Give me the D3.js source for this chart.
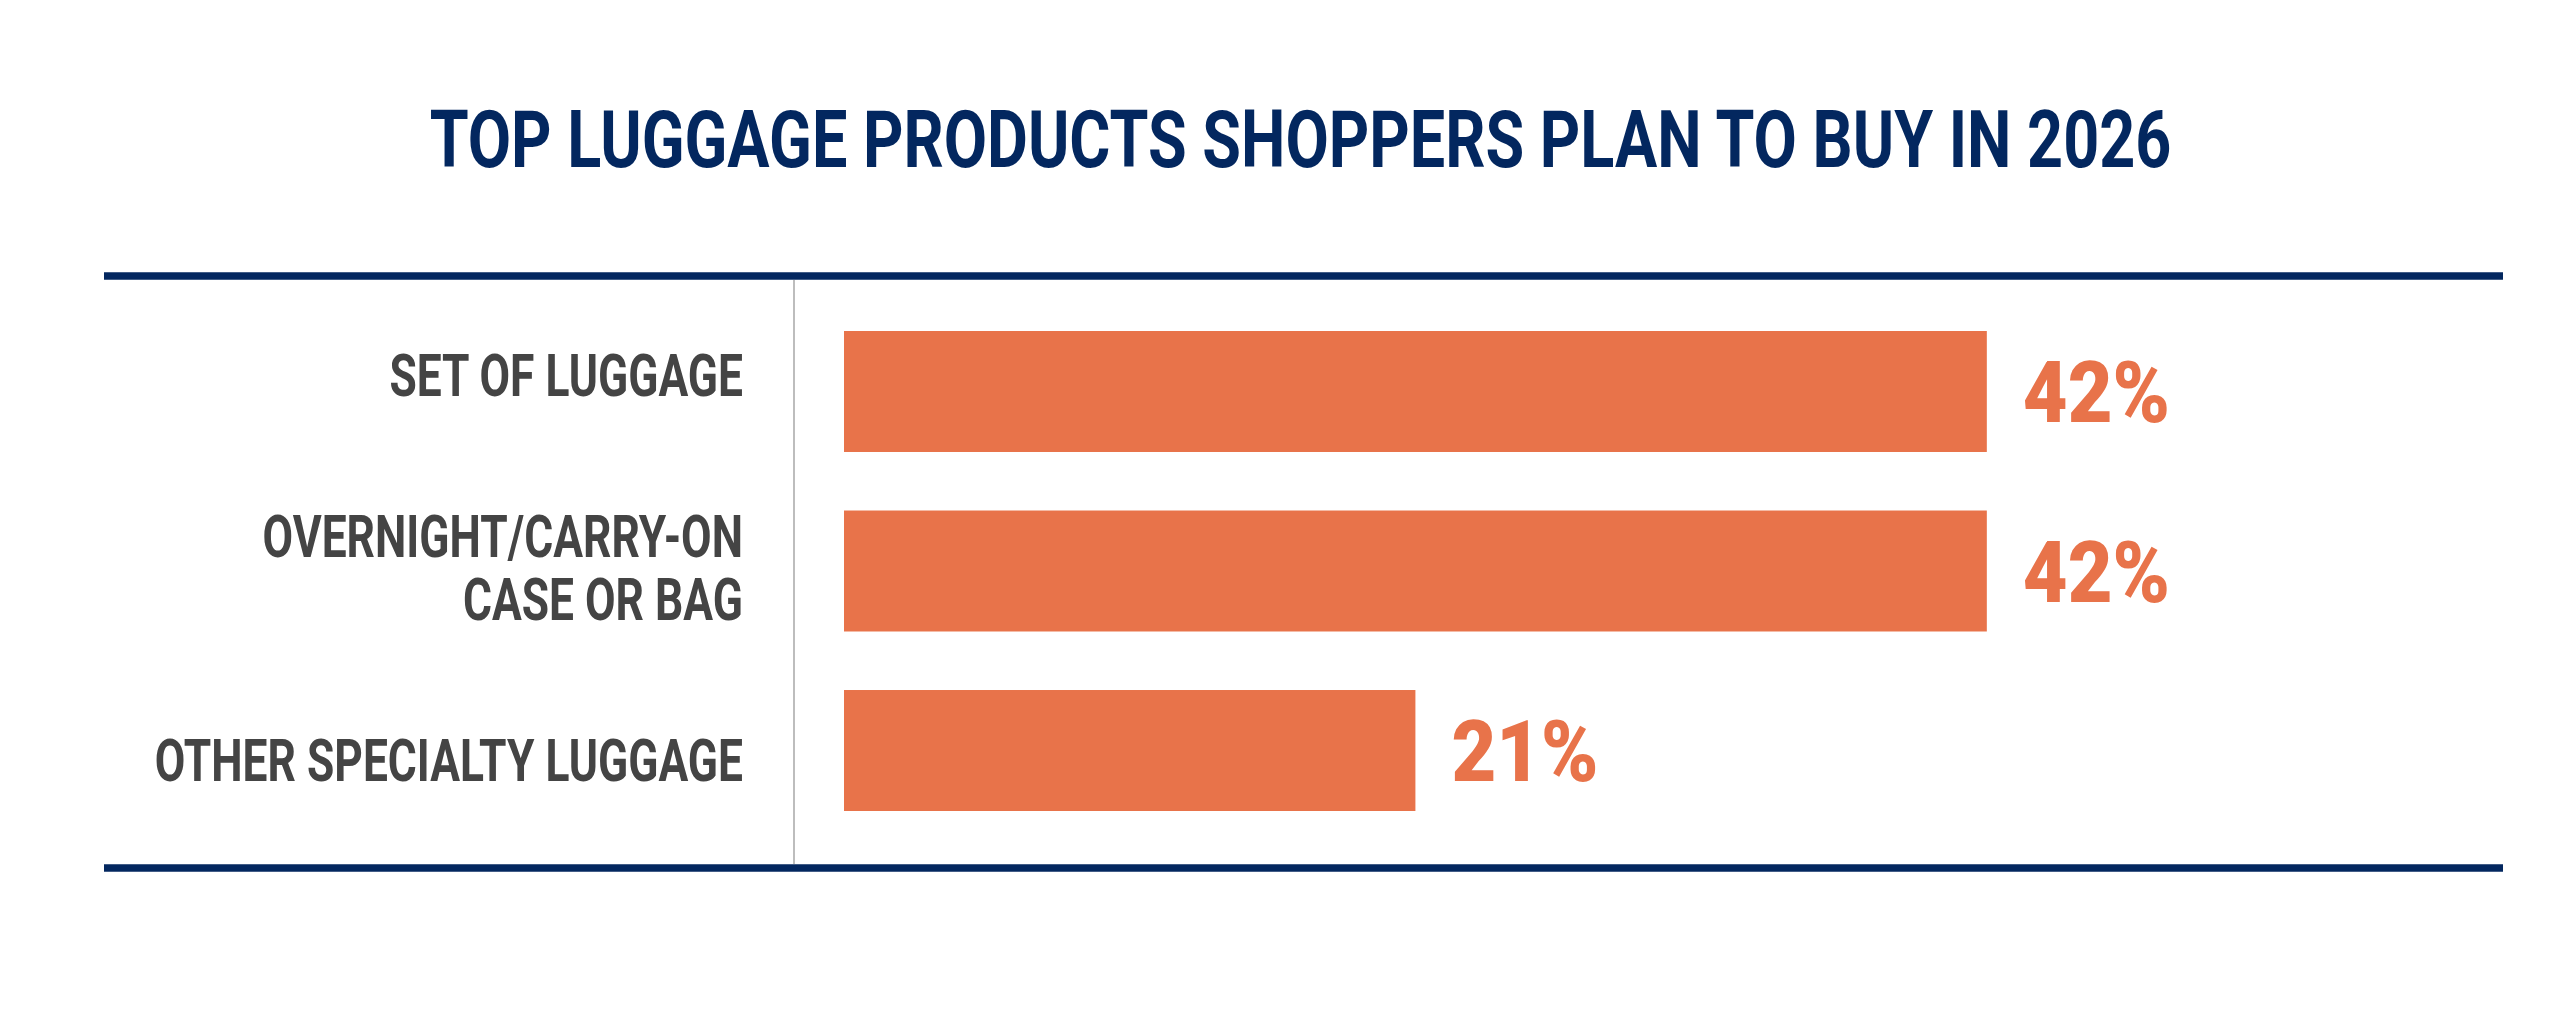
<!DOCTYPE html>
<html>
<head>
<meta charset="utf-8">
<script src="https://cdn.jsdelivr.net/npm/d3@7"></script>
<style>
    html, body { margin: 0; padding: 0; background: #ffffff; }
    svg { display: block; }
</style>
</head>
<body>
<div id="chart"></div>
<script>
// data
var title = 'TOP LUGGAGE PRODUCTS SHOPPERS PLAN TO BUY IN 2026';
var categories = ['SET OF LUGGAGE', 'OVERNIGHT/CARRY-ON\nCASE OR BAG', 'OTHER SPECIALTY LUGGAGE'];
var values = [42, 42, 21];
var valueLabels = ['42%', '42%', '21%'];

var width = 2560, height = 1009;
var navy = '#03275f', orange = '#e8734a', grey = '#444444';

var svg = d3.select('#chart')
    .append('svg')
    .attr('width', width)
    .attr('height', height);

var x = d3.scaleLinear()
    .domain([0, 100])
    .range([844, 3565]);

var y = d3.scaleBand()
    .domain(categories)
    .range([331, 811])
    .paddingInner(0.326)
    .paddingOuter(0);

// labels sit on their own spacing, a bit wider than the bars
var yLabel = d3.scalePoint()
    .domain(categories)
    .range([374.5, 760]);

// draw a text squeezed horizontally (condensed look) around its anchor
function addText(parent, px, py, k) {
    return parent.append('g')
        .attr('transform', 'translate(' + px + ',' + py + ') scale(' + k + ',1)')
        .append('text')
        .attr('x', 0)
        .attr('y', 0);
}

// title
addText(svg, 1300.5, 167, 0.786)
    .attr('text-anchor', 'middle')
    .style('font-family', 'Roboto')
    .style('font-weight', 700)
    .style('font-size', '80px')
    .attr('fill', navy)
    .text(title);

// top and bottom rules
svg.append('line')
    .attr('x1', 104).attr('x2', 2503)
    .attr('y1', 276).attr('y2', 276)
    .attr('stroke', navy)
    .attr('stroke-width', 7.5);

svg.append('line')
    .attr('x1', 104).attr('x2', 2503)
    .attr('y1', 868).attr('y2', 868)
    .attr('stroke', navy)
    .attr('stroke-width', 7.5);

// divider between labels and bars
svg.append('line')
    .attr('x1', 794).attr('x2', 794)
    .attr('y1', 280).attr('y2', 864)
    .attr('stroke', '#bdbdbd')
    .attr('stroke-width', 2);

// bars
svg.selectAll('rect.bar')
    .data(values)
    .enter()
    .append('rect')
    .attr('class', 'bar')
    .attr('x', x(0))
    .attr('y', function (d, i) { return y(categories[i]); })
    .attr('width', function (d) { return x(d) - x(0); })
    .attr('height', y.bandwidth())
    .attr('fill', orange);

// value labels
values.forEach(function (d, i) {
    addText(svg, x(d) + 36, y(categories[i]) + y.bandwidth() / 2 + 30.5, 0.9)
        .attr('class', 'value')
        .style('font-family', 'Roboto')
        .style('font-weight', 900)
        .style('font-size', '86px')
        .attr('fill', orange)
        .text(valueLabels[i]);
});

// category labels
var lineGap = 63, capHalf = 21;
categories.forEach(function (c) {
    var lines = c.split('\n');
    var top = yLabel(c) - (lines.length - 1) * lineGap / 2;
    lines.forEach(function (line, j) {
        addText(svg, 743, top + j * lineGap + capHalf, 0.752)
            .attr('class', 'cat')
            .attr('text-anchor', 'end')
            .style('font-family', 'Roboto')
            .style('font-weight', 700)
            .style('font-size', '59px')
            .attr('fill', grey)
            .text(line);
    });
});
</script>
</body>
</html>
